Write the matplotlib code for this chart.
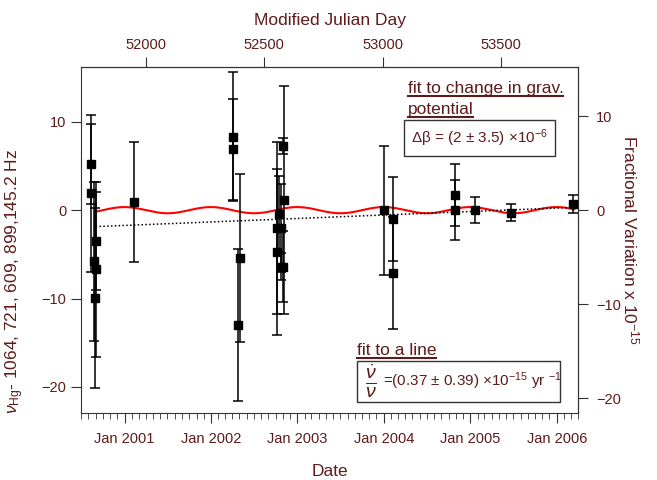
import matplotlib
matplotlib.use('Agg')
import matplotlib.pyplot as plt
import numpy as np
import pandas as pd
from matplotlib.lines import Line2D
from matplotlib.patches import Rectangle

plt.rcParams['font.family'] = ['Liberation Sans', 'DejaVu Sans']
plt.rcParams['mathtext.fontset'] = 'custom'
plt.rcParams['mathtext.rm'] = 'Liberation Sans'
plt.rcParams['mathtext.it'] = 'Liberation Sans:italic'

maroon = '#5e1b1b'
axcol = '#333333'

# Measurements: MJD, offset from 1064 721 609 899 145.2 Hz, 1-sigma error (Hz)
mjd = [51768, 51767, 51788, 51779, 51788, 51786, 51948,
       52368, 52368, 52396, 52389,
       52581, 52583, 52564, 52553, 52570, 52553, 52570, 52581,
       53006, 53044, 53044, 53307, 53307, 53391, 53544, 53806]
freq = [5.2, 1.9, -3.5, -5.8, -6.7, -9.9, 0.9,
        8.3, 6.9, -5.4, -13.0,
        7.3, 1.2, -0.45, -2.0, -2.0, -4.7, -6.4, -6.4,
        0.0, -1.0, -7.1, 1.7, 0.0, 0.0, -0.3, 0.7]
err = [4.5, 8.9, 5.5, 9.0, 9.9, 10.2, 6.8,
       7.3, 5.7, 9.5, 8.6,
       0.9, 12.9, 4.3, 9.7, 5.0, 9.4, 1.5, 4.0,
       7.3, 4.7, 6.3, 3.5, 3.4, 1.5, 0.95, 1.05]

# fit parameters
hz_per_1e15 = 1.0647          # 1e-15 of the clock frequency in Hz
grav_amp = 0.35               # Hz, annual term
grav_peak_mjd = 53005         # phase of the annual term (early January)
line_slope = 0.37             # 1e-15 per year
line_zero_mjd = 53512
fit_start, fit_end = 51788, 53810

date_ticks = ['2001-01-01', '2002-01-01', '2003-01-01', '2004-01-01',
              '2005-01-01', '2006-01-01']
date_labels = ['Jan 2001', 'Jan 2002', 'Jan 2003', 'Jan 2004', 'Jan 2005', 'Jan 2006']
mjd_ticks = [52000, 52500, 53000, 53500]

def to_mjd(d):
    return (pd.to_datetime(d) - pd.Timestamp('1858-11-17')).days

fig = plt.figure(figsize=(6.57, 4.8), dpi=100)
ax = fig.add_axes([0.1233, 0.1396, 0.7565, 0.7208])

t = np.linspace(fit_start, fit_end, 600)
ax.plot(t, grav_amp * np.cos(2 * np.pi * (t - grav_peak_mjd) / 365.25), color='red', lw=1.5, zorder=2)
ax.plot(t, line_slope * hz_per_1e15 * (t - line_zero_mjd) / 365.25, color='black', lw=1.1,
        ls=(0, (1, 1.5)), zorder=2)
ax.errorbar(mjd, freq, yerr=err, fmt='s', color='black', ms=6, capsize=3.5, elinewidth=1.1,
            capthick=1.1, zorder=3)

ax.set_xlim(51750, 53825)
ax.set_ylim(-22.95, 16.2)

# bottom date axis
ax.set_xticks([to_mjd(d) for d in date_ticks])
ax.set_xticklabels(date_labels)
months = pd.date_range('2000-07-01', '2006-04-01', freq='MS')
ax.set_xticks([to_mjd(d) for d in months], minor=True)
ax.set_yticks([-20, -10, 0, 10])
ax.tick_params(axis='both', which='major', direction='out', length=7, color=axcol,
               labelcolor=maroon, labelsize=10.5)
ax.tick_params(axis='x', which='minor', direction='out', length=4, color=axcol)
ax.tick_params(axis='x', which='major', pad=7)
for s in ax.spines.values():
    s.set_color(axcol)

# top MJD axis
top = ax.secondary_xaxis('top')
top.set_xticks(mjd_ticks)
top.tick_params(direction='out', length=7, color=axcol, labelcolor=maroon, labelsize=10.5)
top.set_xlabel('Modified Julian Day', color=maroon, fontsize=12.5, labelpad=10)

# right fractional axis
right = ax.secondary_yaxis('right', functions=(lambda y: y / hz_per_1e15, lambda f: f * hz_per_1e15))
right.set_yticks([-20, -10, 0, 10])
right.tick_params(direction='out', length=7, color=axcol, labelcolor=maroon, labelsize=10.5, pad=6)
right.set_ylabel('Fractional Variation x 10$^{-15}$', color=maroon, fontsize=12.5,
                 rotation=-90, labelpad=14)

ax.set_ylabel(r'$\nu_{\rm Hg}$- 1064, 721, 609, 899,145.2 Hz', color=maroon, fontsize=12.5)
ax.yaxis.set_label_coords(-0.11, 0.38)
ax.set_xlabel('Date', color=maroon, fontsize=12.5, labelpad=13)

# annotations
txts = []
txts.append(ax.text(0.657, 0.925, 'fit to change in grav.', transform=ax.transAxes,
                    color=maroon, fontsize=12.5, va='baseline'))
txts.append(ax.text(0.657, 0.864, 'potential', transform=ax.transAxes,
                    color=maroon, fontsize=12.5, va='baseline'))
txts.append(ax.text(0.555, 0.168, 'fit to a line', transform=ax.transAxes,
                    color=maroon, fontsize=12.5, va='baseline'))

ax.text(0.664, 0.795, 'Δβ = (2 ± 3.5) ×10$^{-6}$', transform=ax.transAxes,
        color=maroon, fontsize=11, va='center',
        bbox=dict(boxstyle='square,pad=0.45', fc='white', ec=axcol, lw=1))

ax.add_patch(Rectangle((0.5553, 0.0318), 0.4085, 0.1185, transform=ax.transAxes,
                       fc='white', ec=axcol, lw=1, zorder=4))
ax.text(0.5835, 0.0925, r'$\frac{\dot{\nu}}{\nu}$', transform=ax.transAxes,
        color=maroon, fontsize=20, ha='center', va='center', zorder=5)
ax.text(0.6076, 0.0925, r'=(0.37 ± 0.39) ×10$^{-15}$ yr $^{-1}$', transform=ax.transAxes,
        color=maroon, fontsize=11, ha='left', va='center', zorder=5)

# underline the headings
renderer = fig.canvas.get_renderer()
W, H = fig.bbox.width, fig.bbox.height
for tx in txts:
    bb = tx.get_window_extent(renderer)
    yb = ax.transAxes.transform(tx.get_position())[1] - 3
    fig.add_artist(Line2D([bb.x0 / W, bb.x1 / W], [yb / H, yb / H], color=maroon, lw=1.5,
                          transform=fig.transFigure))

fig.savefig('out.png', dpi=100)
